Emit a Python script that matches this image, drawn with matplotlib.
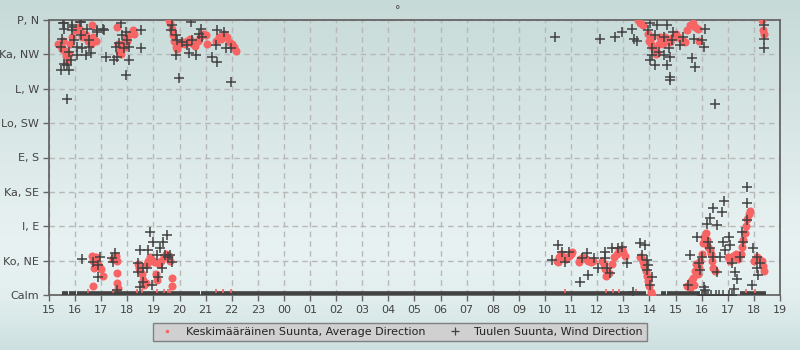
"""Wind direction chart: average direction vs. measured wind direction."""
import numpy as np
import matplotlib
matplotlib.use("Agg")
import matplotlib.pyplot as plt

# hours counted from midnight of the first day (34.5 = 10:30 next day)
# y scale: 0 = calm, 1 = NE, 2 = E ... 8 = N
dir_labels = ["Calm", "Ko, NE", "I, E", "Ka, SE", "E, S", "Lo, SW", "L, W", "Ka, NW", "P, N"]
hour_ticks = list(range(15, 44))

avg_time = [
    15.35, 15.45, 15.5, 15.55, 15.6, 15.65, 15.7, 15.75, 15.8, 15.9, 16.0, 16.1, 16.2, 16.25,
    16.3, 16.4, 16.5, 16.6, 16.65, 16.7, 16.8,
    17.6, 17.65, 17.7, 17.75, 17.8, 17.9, 17.95, 18.0, 18.1, 18.2, 18.25,
    19.6, 19.65, 19.7, 19.75, 19.8, 19.85, 19.9, 20.0, 20.1, 20.2, 20.3, 20.4, 20.5, 20.6,
    20.7, 20.8, 20.9, 21.0, 21.05, 21.4, 21.5, 21.6, 21.7, 21.8, 21.9, 22.0, 22.1, 22.15,
    16.65, 16.7, 16.72, 16.8, 16.85, 16.9, 17.0, 17.05, 16.68,
    17.45, 17.5, 17.55, 17.6, 17.6, 17.62, 17.65,
    18.4, 18.45, 18.5, 18.55, 18.6, 18.65, 18.7, 18.75, 18.8, 18.85, 18.9, 19.0, 19.05, 19.1,
    19.15, 19.2, 19.3, 19.4, 19.5, 19.6, 19.65, 19.7, 19.72,
    34.45, 34.5, 34.55, 34.6, 34.7, 34.8, 34.9, 35.0, 35.05,
    35.3, 35.35, 35.45, 35.55, 35.65, 35.75, 35.85,
    36.2, 36.25, 36.3, 36.35, 36.45, 36.55, 36.65, 36.75, 36.85, 36.95, 37.0, 37.05,
    37.65, 37.7, 37.75, 37.8, 37.85, 37.9, 37.95, 38.0, 38.05, 38.1,
    39.45, 39.5, 39.55, 39.6, 39.65, 39.7, 39.75, 39.8, 39.85, 39.9, 39.95, 40.0, 40.05,
    40.1, 40.15, 40.2, 40.25, 40.3, 40.35, 40.4, 40.45, 40.5,
    41.0, 41.1, 41.2, 41.3, 41.4, 41.5, 41.55, 41.6, 41.65, 41.7, 41.75, 41.8, 41.85,
    42.0, 42.1, 42.2, 42.3, 42.35, 42.4,
    37.55, 37.65, 37.75, 37.95, 38.0, 38.05, 38.1, 38.15, 38.2, 38.25, 38.3, 38.35, 38.4,
    38.45, 38.5, 38.55, 38.6, 38.7, 38.8, 38.9, 39.0, 39.1, 39.2, 39.3, 39.35, 39.45,
    39.55, 39.65, 39.75, 39.85, 39.9,
    42.3, 42.35, 42.4,
]
avg_dir = [
    7.3, 7.25, 7.15, 7.4, 7.1, 6.95, 6.8, 7.0, 7.3, 7.5, 7.7, 7.8, 7.7, 7.5,
    7.6, 7.55, 7.4, 7.3, 7.85, 7.5, 7.4,
    7.8, 7.3, 7.1, 7.0, 7.3, 7.2, 7.5, 7.4, 7.6, 7.7, 7.6,
    8.0, 7.9, 7.75, 7.55, 7.4, 7.2, 7.15, 7.3, 7.35, 7.3, 7.4, 7.45, 7.3, 7.25,
    7.4, 7.5, 7.6, 7.55, 7.3, 7.4, 7.5, 7.45, 7.6, 7.5, 7.35, 7.3, 7.2, 7.1,
    1.15, 1.0, 0.8, 1.1, 0.95, 0.85, 0.75, 0.55, 0.25,
    1.05, 1.1, 1.15, 1.0, 0.65, 0.35, 0.2,
    0.9, 0.8, 0.7, 0.6, 0.45, 0.3, 0.35, 0.9, 1.0, 1.1, 1.05, 1.0, 0.95, 0.6,
    0.45, 0.9, 1.0, 1.1, 1.2, 1.15, 1.0, 0.5, 0.25,
    1.0, 0.95, 1.1, 1.2, 1.1, 1.05, 1.15, 1.2, 1.25,
    0.95, 1.05, 1.1, 1.05, 1.0, 0.95, 1.0,
    1.0, 0.9, 0.75, 0.55, 0.65, 0.9, 1.1, 1.2, 1.3, 1.35, 1.25, 1.15,
    1.1, 1.05, 0.95, 0.85, 0.7, 0.55, 0.4, 0.25, 0.1, 0.0,
    0.25, 0.3, 0.2, 0.4, 0.5, 0.3, 0.7, 0.9, 0.6, 0.8, 1.0, 1.2, 1.5,
    1.7, 1.8, 1.6, 1.4, 1.3, 1.2, 1.0, 0.8, 0.7,
    1.1, 1.0, 1.15, 1.2, 1.05, 1.2, 1.4, 1.6, 1.8, 2.0, 2.2, 2.35, 2.45,
    1.0, 1.1, 1.05, 1.0, 0.85, 0.7,
    8.0, 7.9, 7.85, 7.6, 7.4, 7.3, 7.5, 7.2, 7.1, 7.0, 7.05, 7.3, 7.5,
    7.45, 7.3, 7.4, 7.5, 7.45, 7.35, 7.5, 7.6, 7.5, 7.45, 7.4, 7.35, 7.7,
    7.85, 7.9, 7.8, 7.75, 7.4,
    8.0, 7.7, 7.6,
]

wind_time = [
    15.57, 15.57, 15.89, 15.89, 16.21, 16.47, 16.85, 17.1, 15.51, 15.96, 15.45, 15.77, 16.08,
    16.28, 16.21, 16.53, 16.53, 16.6, 16.4, 16.08, 15.57, 15.7, 15.77, 15.83, 17.17, 15.68,
    15.54, 15.9, 16.2, 16.84, 17.07, 15.46,
    17.75, 17.94, 17.68, 18.07, 17.62, 18.07, 17.94, 18.51, 18.51, 17.8, 17.87, 17.55, 17.99, 17.49,
    19.72, 19.66, 19.85, 19.92, 19.85, 19.98, 20.43, 20.81, 20.75, 20.87, 20.48, 20.36, 20.62,
    21.26, 21.45, 21.45, 21.7, 21.39, 21.77, 21.96, 21.96, 20.1, 20.29,
    34.39, 36.11, 36.69, 36.94, 37.32, 37.39, 37.52, 38.03, 38.28, 38.67, 37.96, 38.22, 38.54,
    38.09, 38.35, 38.54, 38.09, 38.03, 38.22, 38.67, 38.79, 38.73, 38.86, 38.92, 39.18, 39.3,
    39.69, 40.01, 40.07, 40.13, 39.62, 39.75, 38.79, 38.79, 40.52, 42.37, 42.37, 42.37,
    16.25, 16.7, 16.95, 16.89, 16.89, 17.4, 17.53, 17.46, 17.59,
    18.49, 18.42, 18.61, 18.42, 18.61, 18.49, 18.87, 19.0, 18.8, 18.74, 18.93, 19.13, 19.19,
    19.25, 19.38, 19.51, 19.44, 19.32, 19.64, 19.7, 19.57,
    34.48, 34.26, 34.64, 34.77, 34.9, 35.34, 35.6, 35.66, 35.41, 35.86, 36.04, 36.3, 36.3,
    36.37, 36.49, 36.56, 36.81, 36.94, 37.13, 37.64, 37.84, 37.71, 37.9, 37.9, 37.96, 38.03,
    38.09, 39.49, 39.56, 39.81, 39.88, 40.01, 39.94, 40.07, 40.13, 40.2, 40.33, 40.26, 40.33,
    40.45, 40.58, 40.45, 40.58, 40.77, 40.86, 40.83, 40.9, 40.71, 41.03, 41.1, 41.16, 41.29,
    41.35, 41.22, 41.54, 41.6, 41.47, 41.73, 41.73, 41.73, 41.98, 42.11, 42.17, 42.11, 41.92,
    42.24,
    40.02, 40.1, 40.18, 40.26, 40.35, 40.55, 40.68, 40.8, 41.05, 41.15, 37.38,
]
wind_dir = [
    7.9, 7.73, 7.8, 7.7, 7.95, 7.75, 7.7, 7.7, 7.46, 7.41, 7.22, 7.07, 7.22,
    7.17, 7.56, 7.41, 7.22, 7.03, 6.98, 6.98, 6.73, 6.69, 6.54, 6.83, 6.93, 5.7,
    7.9, 7.85, 7.95, 7.65, 7.73, 6.54,
    7.9, 7.66, 7.32, 7.22, 6.93, 6.83, 6.4, 7.7, 7.17, 7.56, 7.18, 7.22, 7.41, 6.83,
    7.85, 7.7, 7.56, 7.41, 6.98, 6.31, 7.95, 7.75, 7.6, 7.51, 7.41, 7.03, 6.98,
    6.93, 6.78, 7.7, 7.66, 7.27, 7.17, 7.17, 6.2, 7.37, 7.27,
    7.5, 7.46, 7.51, 7.66, 7.75, 7.46, 7.38, 7.9, 7.85, 7.85, 7.7, 7.56, 7.51,
    7.17, 7.07, 6.98, 6.98, 6.83, 6.69, 6.69, 6.93, 7.17, 7.41, 7.66, 7.27, 7.51,
    7.46, 7.41, 7.22, 7.75, 6.88, 6.64, 6.34, 6.25, 5.57, 7.85, 7.46, 7.17,
    1.04, 0.97, 1.11, 0.87, 0.53, 1.07, 1.21, 0.97, 0.15,
    1.31, 0.92, 0.78, 0.68, 0.39, 0.24, 1.84, 1.55, 1.31, 0.78, 0.29, 1.16, 0.53,
    1.36, 1.55, 1.74, 1.16, 0.78, 1.16, 0.97, 1.11,
    1.45, 1.02, 1.26, 0.97, 1.26, 0.39, 1.21, 0.58, 1.07, 1.07, 0.78, 1.26, 1.07,
    0.78, 0.63, 1.36, 1.36, 1.4, 0.92, 1.5, 1.45, 1.16, 1.02, 0.73, 0.87, 0.29,
    0.53, 0.29, 1.16, 1.7, 0.92, 1.11, 0.73, 0.24, 0.15, 2.08, 2.23, 1.55, 1.36,
    2.52, 2.03, 1.11, 0.68, 2.42, 2.74, 1.55, 1.31, 1.11, 1.7, 1.45, 0.92, 0.68,
    0.48, 0.19, 1.84, 1.55, 1.11, 3.15, 2.67, 2.18, 1.36, 1.11, 0.58, 0.78, 0.29,
    0.92,
    0.0, 0.0, 0.0, 0.0, 0.0, 0.0, 0.0, 0.0, 0.0, 0.0, 0.1,
]

# long calm stretches (wind direction = calm), start / end hour
calm_start = [15.48, 15.63, 15.76, 15.9, 16.08, 16.32, 20.82, 38.45, 38.68, 41.47]
calm_end = [15.61, 15.74, 15.87, 16.05, 16.3, 20.78, 37.85, 38.62, 39.95, 42.45]
# average direction at calm, peeking through the calm band
avg_calm_time = [16.48, 17.44, 18.38, 18.55, 19.15, 19.42, 19.57, 19.64, 21.4, 21.68, 21.96,
                 34.77, 36.34, 36.62, 36.84, 37.49, 41.7, 42.05]

RED = "#f76464"
DARK = "#424242"

fig = plt.figure(figsize=(8, 3.5), dpi=100)

# soft vertical gradient behind everything
bg = fig.add_axes([0, 0, 1, 1], zorder=-1)
stops = np.array([0.0, 0.7, 0.85, 1.0])
cols = np.array([[198, 218, 216], [233, 242, 242], [226, 238, 238], [205, 224, 224]]) / 255
rows = np.linspace(0, 1, 350)
grad = np.stack([np.interp(rows, stops, cols[:, k]) for k in range(3)], axis=1)
bg.imshow(grad[:, None, :], aspect="auto", extent=[0, 1, 0, 1])
bg.axis("off")

ax = fig.add_axes([0.06125, 0.157, 0.91375, 0.786])
ax.set_facecolor("none")

ax.plot(avg_time, avg_dir, "o", color=RED, ms=5.8, mew=0, zorder=3)
ax.hlines([0] * len(calm_start), calm_start, calm_end, color=DARK, lw=5.5, zorder=4)
ax.plot(avg_calm_time, [0.12] * len(avg_calm_time), "|", color=RED, ms=2.5, mew=1.2, zorder=5)
ax.plot(wind_time, wind_dir, "+", color=DARK, ms=6.5, mew=1.1, zorder=6)

ax.set_xlim(15, 43)
ax.set_ylim(0, 8)
ax.set_xticks(hour_ticks)
ax.set_xticklabels([f"{h % 24:02d}" for h in hour_ticks])
ax.set_yticks(range(len(dir_labels)))
ax.set_yticklabels(dir_labels)
ax.tick_params(colors="#666666", labelcolor="#444444", labelsize=8, length=4, width=1, pad=3)
ax.grid(True, color="#b8b8b8", ls=(0, (4, 3)), lw=1)
ax.set_axisbelow(True)
for s in ax.spines.values():
    s.set_color("#666666")
    s.set_linewidth(1.3)

fig.text(0.4975, 0.985, "°", ha="center", va="top", fontsize=8, color="#444444")

h1, = ax.plot([], [], "o", color=RED, ms=2.5, mew=0)
h2, = ax.plot([], [], "+", color=DARK, ms=6, mew=0.9)
leg = fig.legend([h1, h2], ["Keskimääräinen Suunta, Average Direction", "Tuulen Suunta, Wind Direction"],
                 loc="center", bbox_to_anchor=(0.5, 0.052), ncol=2, fontsize=8,
                 fancybox=False, framealpha=1, facecolor="#d0d0d0", edgecolor="#808080",
                 handlelength=1.8, handletextpad=0.8, columnspacing=1.8, borderpad=0.35)
leg.get_frame().set_linewidth(1)
for t in leg.get_texts():
    t.set_color("#222222")

fig.savefig("out.png", dpi=100)
